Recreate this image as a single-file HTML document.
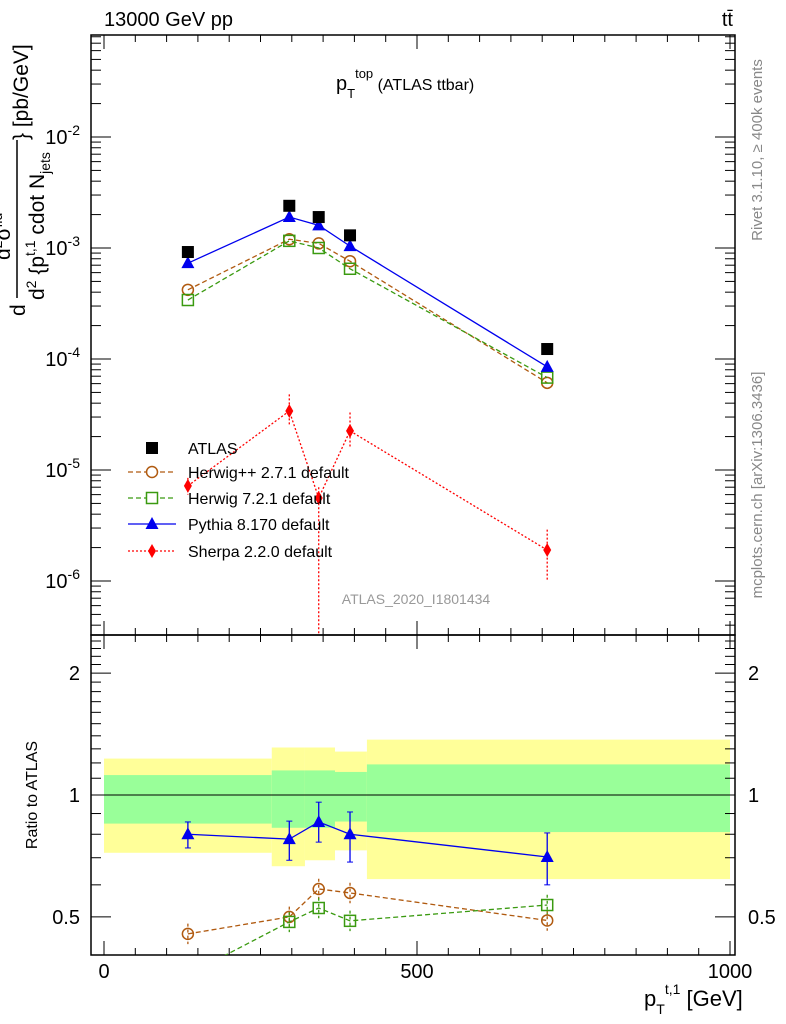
<!DOCTYPE html>
<html><head><meta charset="utf-8"><style>
body{margin:0;background:#fff;}
svg{display:block;font-family:"Liberation Sans",sans-serif;}
</style></head><body>
<svg id="c" width="786" height="1024" xmlns="http://www.w3.org/2000/svg"></svg>
<script>
const xs=[134,296,343,393,708];
const atlas=[9.2e-4,2.4e-3,1.9e-3,1.3e-3,1.23e-4];
const pythia=[7.3e-4,1.9e-3,1.6e-3,1.04e-3,8.5e-5];
const herwigpp=[4.2e-4,1.2e-3,1.1e-3,7.6e-4,6.1e-5];
const herwig7=[3.4e-4,1.16e-3,1.0e-3,6.5e-4,6.8e-5];
const sherpa=[7.2e-6,3.4e-5,5.6e-6,2.25e-5,1.9e-6];
const sherpaLo=[6e-6,2.5e-5,1e-8,1.6e-5,1e-6];
const sherpaHi=[8.5e-6,4.8e-5,7e-6,3.3e-5,2.9e-6];
const rPythia=[0.80,0.778,0.858,0.80,0.703];
const rPythiaLo=[0.74,0.69,0.765,0.683,0.60];
const rPythiaHi=[0.858,0.862,0.96,0.908,0.806];
const rHerwigpp=[0.454,0.50,0.586,0.573,0.49];
const rHerwig7=[0.36,0.486,0.526,0.489,0.535];
const binEdges=[0,268,321,369,420,1000];
const yelLo=[0.72,0.667,0.69,0.73,0.62], yelHi=[1.23,1.31,1.31,1.28,1.37];
const grnLo=[0.85,0.83,0.83,0.86,0.81], grnHi=[1.12,1.15,1.15,1.14,1.19];
const xTicks=[0,500,1000];
const yExps=[-2,-3,-4,-5,-6];
const rTicks=[0.5,1,2];

const S=document.getElementById('c');
const NS='http://www.w3.org/2000/svg';
function el(t,a,p){const e=document.createElementNS(NS,t);for(const k in a)e.setAttribute(k,a[k]);(p||S).appendChild(e);return e;}
const X=v=>104+v*0.626;
const Y=v=>137-(Math.log10(v)+2)*111;
const R=v=>795-Math.log10(v)*405;
const L=91,Rt=735,T=35,M=635,B=955;

const defs=el('defs',{});
const c1=el('clipPath',{id:'cm'},defs);el('rect',{x:L,y:T,width:Rt-L,height:M-T},c1);
const c2=el('clipPath',{id:'cr'},defs);el('rect',{x:L,y:M,width:Rt-L,height:B-M},c2);

const gb=el('g',{'clip-path':'url(#cr)'});
for(let i=0;i<binEdges.length-1;i++){
 let r=el('rect',{x:X(binEdges[i]),y:R(yelHi[i]),width:X(binEdges[i+1])-X(binEdges[i]),height:R(yelLo[i])-R(yelHi[i]),fill:'#ffff99'},gb);
 
 r=el('rect',{x:X(binEdges[i]),y:R(grnHi[i]),width:X(binEdges[i+1])-X(binEdges[i]),height:R(grnLo[i])-R(grnHi[i]),fill:'#99ff99'},gb);
 
}
el('line',{x1:L,x2:Rt,y1:R(1),y2:R(1),stroke:'#000','stroke-width':1},gb);

el('rect',{x:L,y:T,width:Rt-L,height:M-T,fill:'none',stroke:'#000','stroke-width':1.5});
el('rect',{x:L,y:M,width:Rt-L,height:B-M,fill:'none',stroke:'#000','stroke-width':1.5});

for(let v=0;v<=1000;v+=50){const big=v%500==0;const h=big?14:7;
 el('line',{x1:X(v),x2:X(v),y1:B,y2:B-h,stroke:'#000'});el('line',{x1:X(v),x2:X(v),y1:M,y2:M-h,stroke:'#000'});
 el('line',{x1:X(v),x2:X(v),y1:T,y2:T+h,stroke:'#000'});el('line',{x1:X(v),x2:X(v),y1:M,y2:M+h,stroke:'#000'});}
xTicks.forEach(v=>{const t=el('text',{x:X(v),y:978,'font-size':20,'text-anchor':'middle'});t.textContent=v;
 });

for(let e=-7;e<=-1;e++)for(let m=1;m<10;m++){const v=m*Math.pow(10,e);const y=Y(v);if(y<T||y>M)continue;const h=m==1?20:10;
 el('line',{x1:L,x2:L+h,y1:y,y2:y,stroke:'#000'});el('line',{x1:Rt,x2:Rt-h,y1:y,y2:y,stroke:'#000'});}
yExps.forEach(e=>{const t=el('text',{x:80,y:Y(Math.pow(10,e))+7,'font-size':20,'text-anchor':'end'});
 t.innerHTML='10<tspan dy="-9" font-size="14">'+e+'</tspan>';
 });
for(let v=0.4;v<2.5;v=Math.round((v+0.1)*10)/10){const y=R(v);if(y<M||y>B)continue;const big=[0.5,1,2].includes(v);const h=big?20:10;
 el('line',{x1:L,x2:L+h,y1:y,y2:y,stroke:'#000'});el('line',{x1:Rt,x2:Rt-h,y1:y,y2:y,stroke:'#000'});}
rTicks.forEach(v=>{for(const [x,a] of [[80,'end'],[748,'start']]){const t=el('text',{x:x,y:R(v)+7,'font-size':20,'text-anchor':a});t.textContent=v;
 }});

function series(g,vals,f,col,dash,mk){
 const pts=vals.map((v,i)=>[X(xs[i]),f(v)]);
 const p=el('polyline',{points:pts.map(p=>p.join(',')).join(' '),fill:'none',stroke:col,'stroke-width':1.3,'stroke-dasharray':dash||''},g);
 pts.forEach(([x,y])=>{let m;
  if(mk=='sq')m=el('rect',{x:x-6,y:y-6,width:12,height:12,fill:'#000'},g);
  else if(mk=='circ')m=el('circle',{cx:x,cy:y,r:5.5,fill:'none',stroke:col,'stroke-width':1.5},g);
  else if(mk=='osq')m=el('rect',{x:x-5.5,y:y-5.5,width:11,height:11,fill:'none',stroke:col,'stroke-width':1.5},g);
  else if(mk=='tri')m=el('polygon',{points:`${x},${y-7} ${x-6.5},${y+5} ${x+6.5},${y+5}`,fill:col},g);
  else m=el('polygon',{points:`${x},${y-7} ${x-4},${y} ${x},${y+7} ${x+4},${y}`,fill:col},g);
  });
 return p;}
const gm=el('g',{'clip-path':'url(#cm)'});
const gr=el('g',{'clip-path':'url(#cr)'});
sherpa.forEach((v,i)=>{el('line',{x1:X(xs[i]),x2:X(xs[i]),y1:Y(sherpaHi[i]),y2:Y(sherpaLo[i]),stroke:'red','stroke-dasharray':'2,2','stroke-width':1.3},gm);});
series(gm,herwigpp,Y,'#b05a10','5,3','circ');
series(gm,herwig7,Y,'#3a9a10','5,3','osq');
series(gm,pythia,Y,'#0000ee','','tri');
series(gm,sherpa,Y,'red','2,2','dia');
series(gm,atlas,Y,'none','','sq');
rHerwigpp.forEach((v,i)=>el('line',{x1:X(xs[i]),x2:X(xs[i]),y1:R(v*1.06),y2:R(v/1.06),stroke:'#b05a10','stroke-width':1.3,'stroke-dasharray':'3,3'},gr));
rHerwig7.forEach((v,i)=>el('line',{x1:X(xs[i]),x2:X(xs[i]),y1:R(v*1.06),y2:R(v/1.06),stroke:'#3a9a10','stroke-width':1.3,'stroke-dasharray':'3,3'},gr));
series(gr,rHerwigpp,R,'#b05a10','5,3','circ');
series(gr,rHerwig7,R,'#3a9a10','5,3','osq');
rPythia.forEach((v,i)=>{const x=X(xs[i]);
 el('line',{x1:x,x2:x,y1:R(rPythiaHi[i]),y2:R(rPythiaLo[i]),stroke:'#0000ee','stroke-width':1.3},gr);
 el('line',{x1:x-3,x2:x+3,y1:R(rPythiaHi[i]),y2:R(rPythiaHi[i]),stroke:'#0000ee'},gr);
 el('line',{x1:x-3,x2:x+3,y1:R(rPythiaLo[i]),y2:R(rPythiaLo[i]),stroke:'#0000ee'},gr);});
series(gr,rPythia,R,'#0000ee','','tri');

const leg=[['ATLAS','#000','','sq'],['Herwig++ 2.7.1 default','#b05a10','5,3','circ'],['Herwig 7.2.1 default','#3a9a10','5,3','osq'],['Pythia 8.170 default','#0000ee','','tri'],['Sherpa 2.2.0 default','red','2,2','dia']];
const ys=[448,472,498,524,551];
leg.forEach((l,i)=>{const g=el('g',{});
 const y=ys[i],x=152;
 if(i>0)el('line',{x1:128,x2:176,y1:y,y2:y,stroke:l[1],'stroke-width':1.3,'stroke-dasharray':l[2]},g);
 if(l[3]=='sq')el('rect',{x:x-6,y:y-6,width:12,height:12,fill:'#000'},g);
 else if(l[3]=='circ')el('circle',{cx:x,cy:y,r:5.5,fill:'#fff',stroke:l[1],'stroke-width':1.5},g);
 else if(l[3]=='osq')el('rect',{x:x-5.5,y:y-5.5,width:11,height:11,fill:'#fff',stroke:l[1],'stroke-width':1.5},g);
 else if(l[3]=='tri')el('polygon',{points:`${x},${y-7} ${x-6.5},${y+5} ${x+6.5},${y+5}`,fill:l[1]},g);
 else el('polygon',{points:`${x},${y-7} ${x-4},${y} ${x},${y+7} ${x+4},${y}`,fill:l[1]},g);
 const t=el('text',{x:188,y:y+6,'font-size':16},g);t.textContent=l[0];});

function txt(s,a,name){const t=el('text',a);t.innerHTML=s;return t;}
txt('13000 GeV pp',{x:104,y:26,'font-size':20},'header-left');
txt('tt̄',{x:733,y:26,'font-size':20,'text-anchor':'end'},'header-right');
txt('p<tspan dy="8" font-size="13">T</tspan><tspan dy="-20" font-size="13">top</tspan><tspan dy="12" font-size="16"> (ATLAS ttbar)</tspan>',{x:336,y:90,'font-size':20},'plot-title');
txt('ATLAS_2020_I1801434',{x:416,y:604,'font-size':14,fill:'#999','text-anchor':'middle'},'analysis-label');
txt('p<tspan dy="8" font-size="14">T</tspan><tspan dy="-20" font-size="14">t,1</tspan><tspan dy="12"> [GeV]</tspan>',{x:644,y:1006,'font-size':22},'x-axis-title');
txt('Ratio to ATLAS',{x:37,y:795,'font-size':16,'text-anchor':'middle',transform:'rotate(-90 37 795)'},'ratio-axis-title');
const yt=el('g',{});
el('text',{x:25,y:316,'font-size':21,transform:'rotate(-90 25 316)'},yt).textContent='d';
el('line',{x1:17,x2:17,y1:298,y2:140,stroke:'#000','stroke-width':1.5},yt);
el('text',{x:10,y:260,'font-size':21,transform:'rotate(-90 10 260)'},yt).innerHTML='d<tspan dy="-8" font-size="14">2</tspan><tspan dy="8">σ</tspan><tspan dy="-8" font-size="14">fid</tspan>';
el('text',{x:44,y:300,'font-size':21,transform:'rotate(-90 44 300)'},yt).innerHTML='d<tspan dy="-8" font-size="14">2</tspan><tspan dy="8"> {p</tspan><tspan dy="-9" font-size="14">t,1</tspan><tspan dy="9"> cdot N</tspan><tspan dy="6" font-size="14">jets</tspan>';
el('text',{x:28,y:140,'font-size':21,transform:'rotate(-90 28 140)'},yt).textContent='} [pb/GeV]';
txt('Rivet 3.1.10, ≥ 400k events',{x:762,y:150,'font-size':15,fill:'#888','text-anchor':'middle',transform:'rotate(-90 762 150)'},'rivet-label');
txt('mcplots.cern.ch [arXiv:1306.3436]',{x:762,y:485,'font-size':15,fill:'#888','text-anchor':'middle',transform:'rotate(-90 762 485)'},'mcplots-label');
</script>
</body></html>
